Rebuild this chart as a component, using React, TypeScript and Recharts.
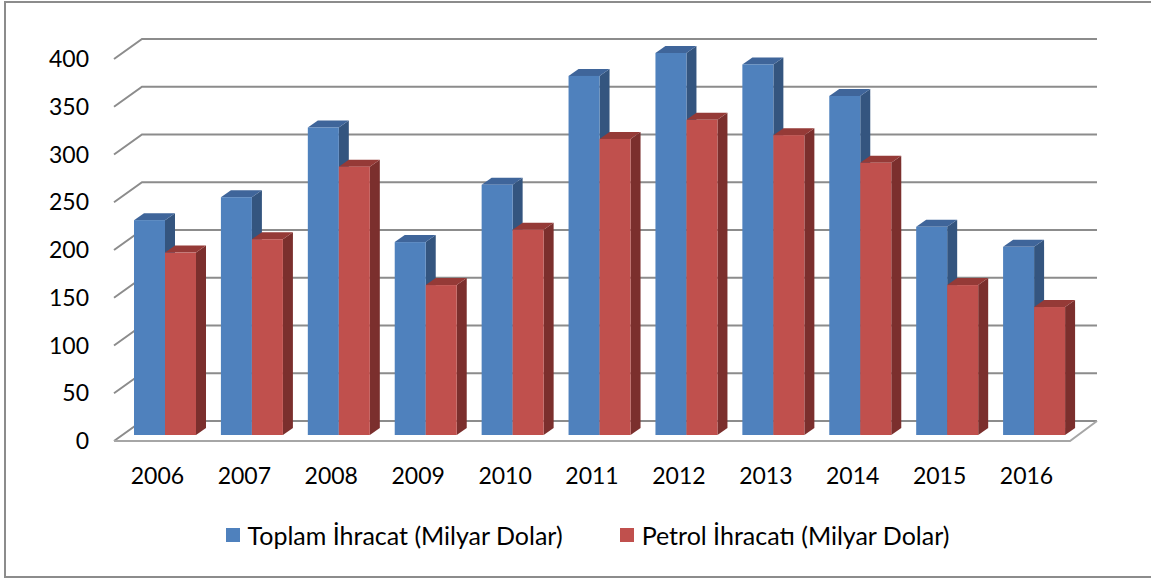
import { BarChart, Bar, XAxis, YAxis, CartesianGrid } from 'recharts';

// years on the category axis
const years = ['2006', '2007', '2008', '2009', '2010', '2011', '2012', '2013', '2014', '2015', '2016'];
// Toplam İhracat (Milyar Dolar)
const toplam = [225, 249, 322, 202, 262, 376, 400, 388, 355, 218, 197];
// Petrol İhracatı (Milyar Dolar)
const petrol = [191, 205, 281, 157, 215, 310, 330, 314, 285, 157, 134];
const yTicks = [0, 50, 100, 150, 200, 250, 300, 350, 400];

const data = years.map((year, i) => ({ year, toplam: toplam[i], petrol: petrol[i] }));

const FONT = 'Lato, "Open Sans", sans-serif';
const GRID = '#8C8C8C';

// 3D look: how far the back of the floor / bars sit from the front
const WALL_DX = 28;
const WALL_DY = -20;
const BAR_SHIFT_X = 8;
const BAR_SHIFT_Y = -6;
const DEPTH_X = 10;
const DEPTH_Y = -7;

const series = [
  { key: 'toplam', name: 'Toplam İhracat (Milyar Dolar)', front: '#4F81BD', top: '#3F659A', side: '#34557F' },
  { key: 'petrol', name: 'Petrol İhracatı (Milyar Dolar)', front: '#C0504D', top: '#953A37', side: '#7B2F2D' },
];

const makeBox = (top: string, side: string) => (props: any) => {
  const { x, y, width, height, fill } = props;
  if (height == null || width == null) return <g />;
  const fx = x + BAR_SHIFT_X;
  const fy = y + BAR_SHIFT_Y;
  const topFace = `${fx},${fy} ${fx + DEPTH_X},${fy + DEPTH_Y} ${fx + width + DEPTH_X},${fy + DEPTH_Y} ${fx + width},${fy}`;
  const sideFace = `${fx + width},${fy} ${fx + width + DEPTH_X},${fy + DEPTH_Y} ${fx + width + DEPTH_X},${fy + height + DEPTH_Y} ${fx + width},${fy + height}`;
  return (
    <g>
      <polygon points={sideFace} fill={side} />
      <polygon points={topFace} fill={top} />
      <rect x={fx} y={fy} width={width} height={height} fill={fill} />
    </g>
  );
};

// each horizontal grid line: a short diagonal on the side wall, then the back wall line
const gridLine = (props: any) => {
  const { x1, x2, y1, index } = props;
  const d = `M${x1},${y1} L${x1 + WALL_DX},${y1 + WALL_DY} L${x2 + WALL_DX - 1},${y1 + WALL_DY}`;
  const isFloor = index === 0;
  return (
    <g key={`grid-${index}`}>
      <path d={d} fill="none" stroke={GRID} strokeWidth={2} />
      {isFloor && (
        <path
          d={`M${x1},${y1} L${x2},${y1} L${x2 + WALL_DX - 1},${y1 + WALL_DY}`}
          fill="none"
          stroke="#A6A6A6"
          strokeWidth={2}
        />
      )}
    </g>
  );
};

export default function App() {
  return (
    <div style={{ position: 'absolute', left: 0, top: 0, width: 1151, height: 579, background: '#fff', overflow: 'hidden' }}>
      <div
        style={{
          position: 'absolute',
          left: 4,
          top: 1,
          width: 1160,
          height: 573,
          border: '2px solid #8C8C8C',
        }}
      />
      <div style={{ position: 'absolute', left: 0, top: 0 }}>
        <BarChart
          width={1151}
          height={579}
          data={data}
          margin={{ top: 59, right: 81, bottom: 0, left: 54 }}
          barGap={0}
          barSize={31}
        >
          <CartesianGrid vertical={false} horizontal={gridLine} />
          <XAxis
            dataKey="year"
            height={138}
            axisLine={false}
            tickLine={false}
            tickSize={0}
            tickMargin={27}
            tick={{ fill: '#000', fontSize: 23, fontFamily: FONT }}
          />
          <YAxis
            type="number"
            domain={[0, 400]}
            ticks={yTicks}
            width={60}
            axisLine={false}
            tickLine={false}
            tickSize={0}
            tickMargin={25}
            tick={{ fill: '#000', fontSize: 23, fontFamily: FONT }}
          />
          {series.map((s) => (
            <Bar
              key={s.key}
              dataKey={s.key}
              name={s.name}
              fill={s.front}
              shape={makeBox(s.top, s.side)}
              isAnimationActive={false}
            />
          ))}
        </BarChart>
      </div>
      <div
        style={{
          position: 'absolute',
          left: 0,
          top: 520,
          width: 1151,
          paddingLeft: 24,
          boxSizing: 'border-box',
          display: 'flex',
          justifyContent: 'center',
          gap: 57,
          fontFamily: FONT,
          fontSize: 25,
          color: '#000',
        }}
      >
        {series.map((s) => (
          <div key={s.key} style={{ display: 'flex', alignItems: 'center', gap: 8 }}>
            <div style={{ width: 14, height: 14, background: s.front }} />
            <span>{s.name}</span>
          </div>
        ))}
      </div>
    </div>
  );
}
